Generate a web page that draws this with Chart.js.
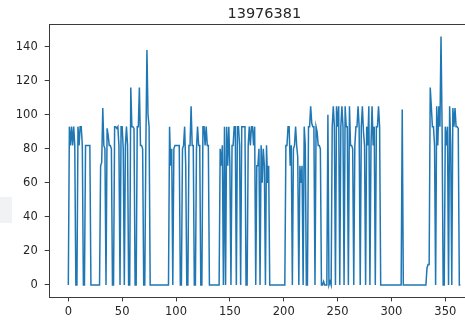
<!DOCTYPE html>
<html lang="en">
<head>
    <meta charset="UTF-8">
    <title>13976381</title>
    <script src="https://cdn.jsdelivr.net/npm/chart.js"></script>
    <style>
        html, body {
            margin: 0;
            padding: 0;
            width: 465px;
            height: 324px;
            overflow: hidden;
            background: #ffffff;
            font-family: 'DejaVu Sans', sans-serif;
        }
        .wrap {
            position: relative;
            width: 500px;
            height: 324px;
        }
        /* faint grey patch from the page behind the screenshot */
        .patch {
            position: absolute;
            left: 0;
            top: 197px;
            width: 12px;
            height: 26px;
            background: #f1f2f4;
        }
    </style>
</head>
<body>
<div class="wrap">
    <div class="patch"></div>
    <canvas id="chart" width="500" height="324"></canvas>
</div>

<script>
    // daily values, index 0..364
    const values = [
        0, 93, 82, 93, 82, 93, 82, 0, 0, 93,
        82, 93, 93, 82, 0, 0, 82, 82, 82, 82,
        82, 0, 0, 0, 0, 0, 0, 0, 0, 0,
        70, 72, 104, 82, 80, 0, 92, 88, 82, 82,
        80, 0, 0, 93, 93, 92, 93, 82, 0, 93,
        93, 80, 0, 82, 93, 82, 0, 0, 116, 93,
        93, 92, 0, 0, 93, 93, 116, 82, 82, 80,
        0, 0, 82, 138, 100, 93, 0, 0, 0, 0,
        0, 0, 0, 0, 0, 0, 0, 0, 0, 0,
        0, 0, 0, 0, 93, 70, 80, 0, 80, 82,
        82, 82, 82, 82, 0, 0, 80, 82, 93, 70,
        0, 0, 82, 82, 105, 82, 82, 0, 0, 80,
        93, 82, 82, 0, 0, 93, 93, 82, 93, 82,
        82, 0, 0, 0, 0, 0, 0, 0, 0, 0,
        0, 80, 70, 82, 0, 93, 0, 93, 70, 93,
        70, 0, 82, 82, 93, 93, 0, 93, 93, 82,
        0, 93, 93, 93, 93, 0, 0, 82, 93, 82,
        93, 93, 82, 93, 0, 70, 70, 80, 0, 82,
        60, 80, 70, 0, 82, 60, 70, 0, 0, 0,
        0, 0, 0, 0, 0, 0, 0, 0, 0, 0,
        0, 0, 82, 82, 93, 93, 70, 82, 0, 80,
        82, 93, 82, 75, 0, 70, 60, 70, 0, 93,
        82, 0, 0, 93, 93, 105, 95, 93, 93, 0,
        93, 90, 82, 82, 80, 0, 0, 2, 0, 0,
        0, 100, 0, 2, 0, 93, 105, 93, 0, 105,
        93, 105, 0, 93, 105, 93, 0, 105, 93, 93,
        0, 105, 82, 82, 80, 0, 82, 93, 93, 105,
        93, 0, 93, 105, 90, 82, 0, 93, 82, 105,
        0, 82, 105, 82, 93, 0, 93, 93, 105, 93,
        0, 0, 0, 0, 0, 0, 0, 0, 0, 0,
        0, 0, 0, 0, 0, 0, 0, 0, 0, 0,
        103, 0, 0, 0, 0, 0, 0, 0, 0, 0,
        0, 0, 0, 0, 0, 0, 0, 0, 0, 0,
        0, 0, 0, 10, 12, 12, 116, 105, 93, 93,
        82, 0, 105, 82, 105, 93, 146, 93, 0, 0,
        93, 82, 93, 0, 105, 82, 0, 104, 93, 104,
        93, 93, 92, 0, 0
    ];

    const xTicks = [0, 50, 100, 150, 200, 250, 300, 350];
    const yTicks = [0, 20, 40, 60, 80, 100, 120, 140];
    const chartTitle = '13976381';

    const points = values.map((v, i) => ({ x: i, y: v }));

    // matplotlib style 5% margins around the data
    const xMax = values.length - 1;
    const yMax = Math.max(...values);

    const frame = {
        id: 'frame',
        afterDraw(chart) {
            const { ctx, chartArea: a } = chart;
            ctx.save();
            ctx.strokeStyle = '#3a3a3a';
            ctx.lineWidth = 1;
            ctx.strokeRect(Math.round(a.left) + 0.5, Math.round(a.top) + 0.5,
                Math.round(a.right - a.left), Math.round(a.bottom - a.top));
            ctx.fillStyle = '#262626';
            ctx.font = '14.5px "DejaVu Sans"';
            ctx.textAlign = 'center';
            ctx.textBaseline = 'alphabetic';
            ctx.fillText(chartTitle, (a.left + a.right) / 2, 17.5);
            ctx.restore();
        }
    };

    new Chart(document.getElementById('chart'), {
        type: 'line',
        data: {
            datasets: [{
                data: points,
                borderColor: '#1f77b4',
                borderWidth: 1.5,
                pointRadius: 0,
                tension: 0,
                fill: false
            }]
        },
        options: {
            responsive: false,
            animation: false,
            layout: { padding: { top: 24, right: 20, left: 0, bottom: 0 } },
            plugins: { legend: { display: false }, tooltip: { enabled: false } },
            scales: {
                x: {
                    type: 'linear',
                    min: -0.05 * xMax,
                    max: xMax * 1.05,
                    afterBuildTicks: s => { s.ticks = xTicks.map(v => ({ value: v })); },
                    afterFit: s => { s.height = 26.6; },
                    grid: { display: true, drawOnChartArea: false, drawTicks: true, tickLength: 4, tickColor: '#3a3a3a' },
                    border: { display: false },
                    ticks: {
                        color: '#262626',
                        padding: 4,
                        maxRotation: 0,
                        font: { family: 'DejaVu Sans', size: 11.5 }
                    }
                },
                y: {
                    min: -0.05 * yMax,
                    max: yMax * 1.05,
                    afterBuildTicks: s => { s.ticks = yTicks.map(v => ({ value: v })); },
                    afterFit: s => { s.width = 48.7; },
                    grid: { display: true, drawOnChartArea: false, drawTicks: true, tickLength: 4, tickColor: '#3a3a3a' },
                    border: { display: false },
                    ticks: {
                        color: '#262626',
                        padding: 7,
                        font: { family: 'DejaVu Sans', size: 11.5 }
                    }
                }
            }
        },
        plugins: [frame]
    });
</script>
</body>
</html>
